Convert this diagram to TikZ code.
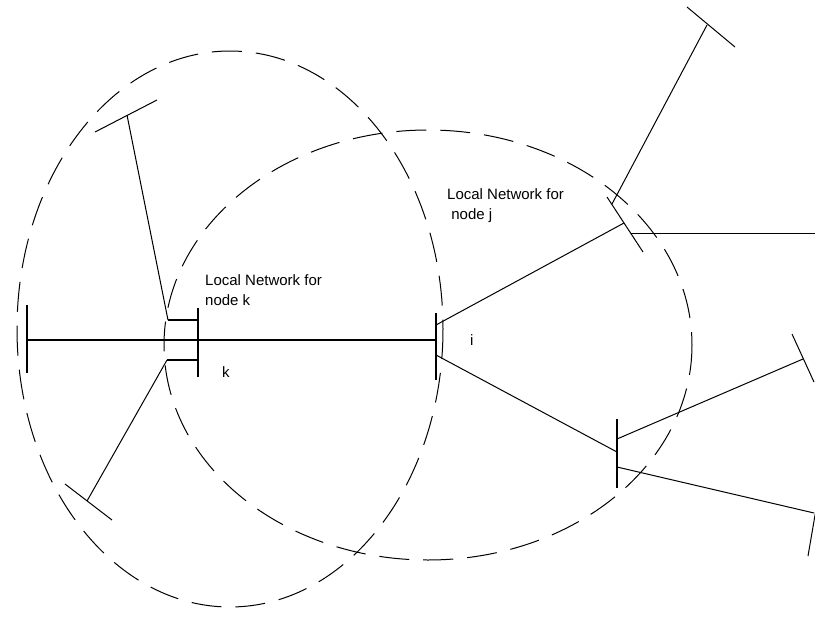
\documentclass[tikz,border=0pt]{standalone}
\usepackage{fontspec}
\setmainfont{Liberation Sans}
\begin{document}
\begin{tikzpicture}[x=1pt,y=-1pt,
  link/.style={line width=1pt},
  bar/.style={line width=1.5pt},
  zone/.style={line width=1pt, dash pattern=on 30pt off 14pt},
  lbl/.style={font=\fontsize{15}{20}\selectfont, inner sep=0pt, align=left, anchor=north west}]
\useasboundingbox (0,0) rectangle (815,624);
\clip (0,0) rectangle (815,624);

% coverage areas of the two local networks
\draw[zone] (230,329) ellipse [x radius=213, y radius=278];
\draw[zone] (428,345) ellipse [x radius=264, y radius=215];

% node k
\coordinate (kT) at (198,308);
\coordinate (kB) at (198,377);
\coordinate (k)  at (198,340);
\coordinate (kU) at (168,320);
\coordinate (kUr) at (198,320);
\coordinate (kL) at (167,360);
\coordinate (kLr) at (198,360);
\draw[bar] (kT) -- (kB);
\draw[bar] (kU) -- (kUr);
\draw[bar] (kL) -- (kLr);

% far left station
\coordinate (aT) at (27,305);
\coordinate (aB) at (27,373);
\coordinate (a)  at (27,340);
\draw[bar] (aT) -- (aB);

% node i
\coordinate (iT) at (436,313);
\coordinate (iB) at (436,380);
\coordinate (i)  at (436,340);
\coordinate (iU) at (436,325);
\coordinate (iL) at (436,355);
\draw[bar] (iT) -- (iB);

% node j
\coordinate (jA) at (607,197);
\coordinate (jB) at (643,252);
\coordinate (jT) at (612,204);
\coordinate (jI) at (624,223);
\coordinate (jR) at (631,233);
\draw[link] (jA) -- (jB);

% lower right node
\coordinate (mT) at (617,419);
\coordinate (mB) at (617,488);
\coordinate (mI) at (617,452);
\coordinate (mU) at (617,439);
\coordinate (mL) at (617,467);
\draw[bar] (mT) -- (mB);

% outer stations
\coordinate (tl)  at (127,115);
\coordinate (tlA) at (95,132);
\coordinate (tlB) at (157,100);
\draw[link] (tlA) -- (tlB);

\coordinate (bl)  at (87,501);
\coordinate (blA) at (65,484);
\coordinate (blB) at (112,520);
\draw[link] (blA) -- (blB);

\coordinate (tr)  at (707,25);
\coordinate (trA) at (687,7);
\coordinate (trB) at (735,47);
\draw[link] (trA) -- (trB);

\coordinate (ru)  at (803,359);
\coordinate (ruA) at (792,334);
\coordinate (ruB) at (814,382);
\draw[link] (ruA) -- (ruB);

\coordinate (rl)  at (814,513);
\coordinate (rlA) at (819,492);
\coordinate (rlB) at (808,556);
\draw[link] (rlA) -- (rlB);

\coordinate (re) at (815,233);

% links
\draw[bar] (a) -- (k) -- (i);
\draw[link] (tl) -- (kU);
\draw[link] (bl) -- (kL);
\draw[link] (iU) -- (jI);
\draw[link] (iL) -- (mI);
\draw[link] (tr) -- (jT);
\draw[link] (jR) -- (re);
\draw[link] (mU) -- (ru);
\draw[link] (mL) -- (rl);

% labels
\node[lbl] (labk) at (205,274) {Local Network for\\node k};
\node[lbl] (labj) at (447,188) {Local Network for\\\ node j};
\node[lbl] (tk) at (222,366) {k};
\node[lbl] (ti) at (470,334) {i};
\end{tikzpicture}
\end{document}
